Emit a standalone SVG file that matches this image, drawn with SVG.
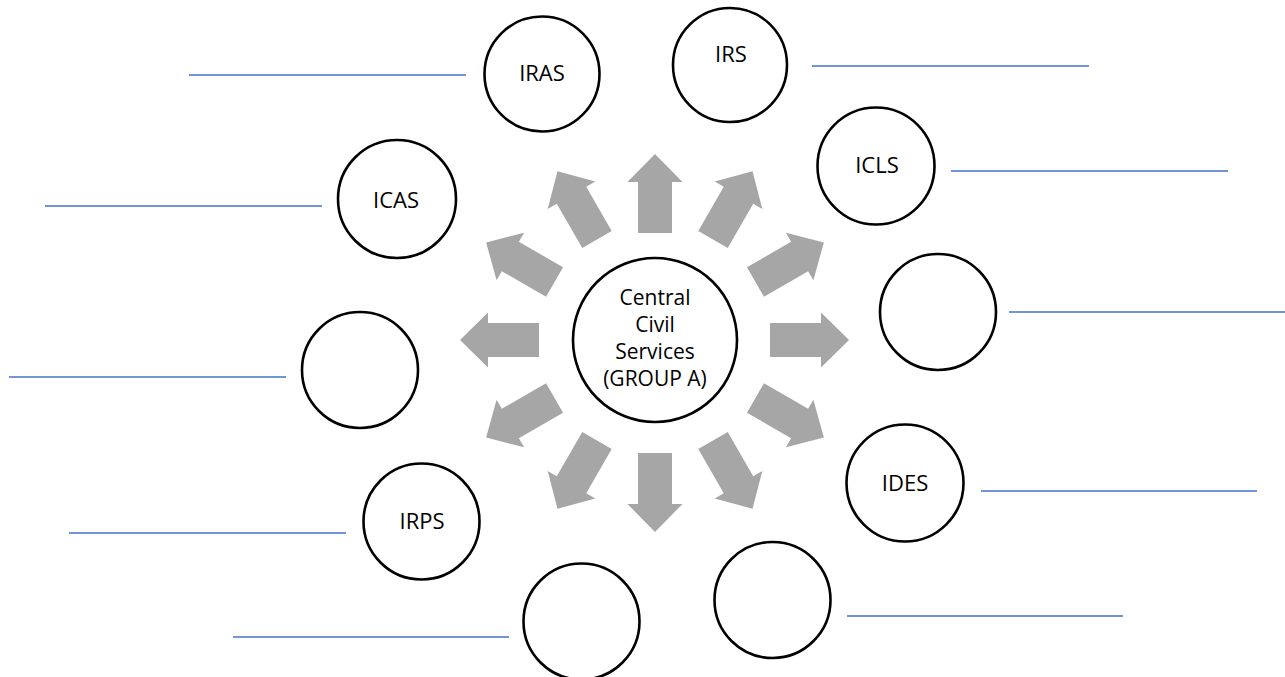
<svg xmlns="http://www.w3.org/2000/svg" width="1285" height="677" viewBox="0 0 1285 677">
<style>
.node{fill:#fff;stroke:#000;stroke-width:2.6}
.lbl{font-family:"Open Sans","Liberation Sans",sans-serif;font-size:22px;fill:#000;text-anchor:middle}
.ctr{font-family:"Open Sans","Liberation Sans",sans-serif;font-size:21px;fill:#000;text-anchor:middle}
.blank{stroke:#4472C4;stroke-width:1.6;fill:none}
.arr{fill:#A6A6A6}
</style>
<defs>
<polygon id="arrow" points="0,-17 51,-17 51,-27.5 79,0 51,27.5 51,17 0,17"/>
</defs>
<rect width="1285" height="677" fill="#fff"/>
<g id="connectors">
<use href="#arrow" class="arr" transform="translate(655,340) rotate(0) translate(115,0)"/>
<use href="#arrow" class="arr" transform="translate(655,340) rotate(30) translate(116,0)"/>
<use href="#arrow" class="arr" transform="translate(655,340) rotate(60) translate(116,0)"/>
<use href="#arrow" class="arr" transform="translate(655,340) rotate(90) translate(113,0)"/>
<use href="#arrow" class="arr" transform="translate(655,340) rotate(120) translate(116,0)"/>
<use href="#arrow" class="arr" transform="translate(655,340) rotate(150) translate(116,0)"/>
<use href="#arrow" class="arr" transform="translate(655,340) rotate(180) translate(116,0)"/>
<use href="#arrow" class="arr" transform="translate(655,340) rotate(210) translate(116,0)"/>
<use href="#arrow" class="arr" transform="translate(655,340) rotate(240) translate(116,0)"/>
<use href="#arrow" class="arr" transform="translate(655,340) rotate(270) translate(107,0)"/>
<use href="#arrow" class="arr" transform="translate(655,340) rotate(300) translate(116,0)"/>
<use href="#arrow" class="arr" transform="translate(655,340) rotate(330) translate(116,0)"/>
</g>
<g id="blank-lines">
<line class="blank" x1="189" y1="75" x2="466" y2="75"/>
<line class="blank" x1="812" y1="66" x2="1089" y2="66"/>
<line class="blank" x1="951" y1="171" x2="1228" y2="171"/>
<line class="blank" x1="1009" y1="312" x2="1285" y2="312"/>
<line class="blank" x1="981" y1="491" x2="1257" y2="491"/>
<line class="blank" x1="847" y1="616" x2="1123" y2="616"/>
<line class="blank" x1="233" y1="637" x2="509" y2="637"/>
<line class="blank" x1="69" y1="533" x2="346" y2="533"/>
<line class="blank" x1="9" y1="377" x2="286" y2="377"/>
<line class="blank" x1="45" y1="206" x2="322" y2="206"/>
</g>
<g id="center">
<circle class="node" cx="655" cy="340" r="82"/>
<text class="ctr" x="655" y="305">Central</text>
<text class="ctr" x="655" y="332">Civil</text>
<text class="ctr" x="655" y="359">Services</text>
<text class="ctr" x="655" y="386">(GROUP A)</text>
</g>
<g id="iras"><circle class="node" cx="542" cy="74" r="57.5"/><text class="lbl" x="542" y="81">IRAS</text></g>
<g id="irs"><circle class="node" cx="730" cy="65" r="57"/><text class="lbl" x="731" y="62">IRS</text></g>
<g id="icls"><circle class="node" cx="876" cy="166" r="58.5"/><text class="lbl" x="877" y="173">ICLS</text></g>
<g id="node-right"><circle class="node" cx="938" cy="312" r="58"/></g>
<g id="ides"><circle class="node" cx="905" cy="483" r="58.5"/><text class="lbl" x="905" y="491">IDES</text></g>
<g id="node-bottom-right"><circle class="node" cx="772.5" cy="600" r="58"/></g>
<g id="node-bottom-left"><circle class="node" cx="581.5" cy="621.5" r="58"/></g>
<g id="irps"><circle class="node" cx="421.5" cy="521.5" r="58"/><text class="lbl" x="422" y="529">IRPS</text></g>
<g id="node-left"><circle class="node" cx="360" cy="370" r="58"/></g>
<g id="icas"><circle class="node" cx="397" cy="199" r="59"/><text class="lbl" x="396" y="208">ICAS</text></g>
</svg>
